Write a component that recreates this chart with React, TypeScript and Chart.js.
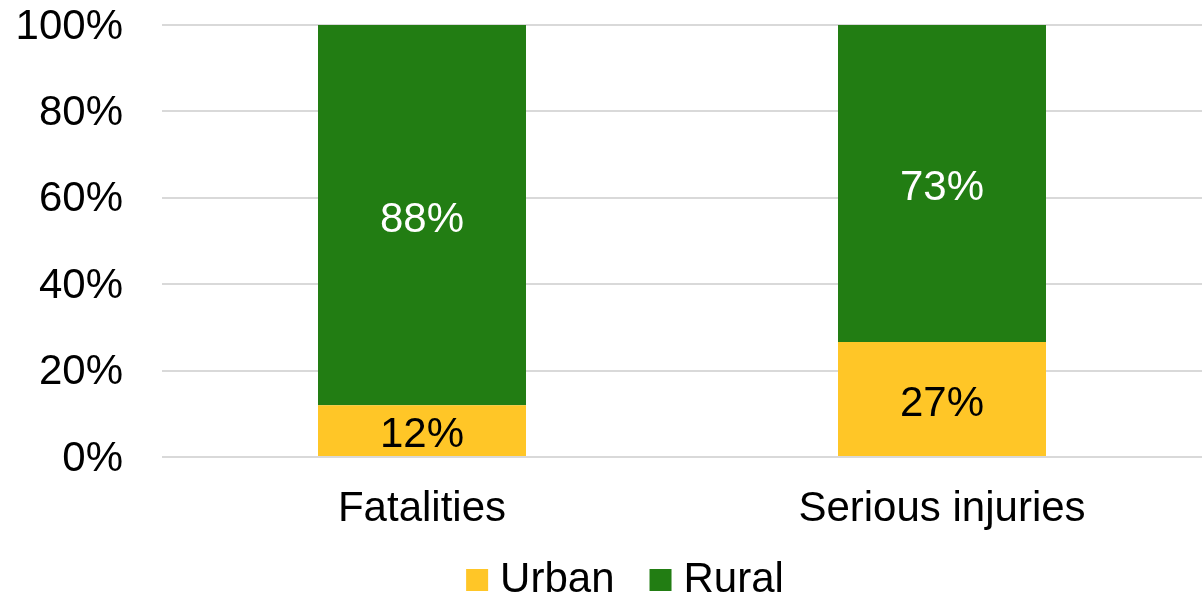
import React, { useEffect, useRef } from "react";
import { Chart, registerables } from "chart.js";

Chart.register(...registerables);

const categories = ["Fatalities", "Serious injuries"];
const seriesNames = ["Urban", "Rural"];
const urbanValues = [12.0, 26.6];
const ruralValues = [88.0, 73.4];
const yTicks = [0, 20, 40, 60, 80, 100];

const URBAN_COLOR = "#FFC627";
const RURAL_COLOR = "#227D13";
const FONT = "'Liberation Sans', Arial, sans-serif";
const FS = 42;

const labelPlugin = {
  id: "barLabels",
  afterDatasetsDraw(chart: any) {
    const ctx = chart.ctx;
    ctx.save();
    ctx.font = `${FS}px ${FONT}`;
    ctx.textAlign = "center";
    ctx.textBaseline = "middle";
    chart.data.datasets.forEach((ds: any, di: number) => {
      const meta = chart.getDatasetMeta(di);
      meta.data.forEach((bar: any, i: number) => {
        const v = ds.data[i];
        const yMid = (bar.y + bar.base) / 2;
        ctx.fillStyle = di === 0 ? "#000000" : "#FFFFFF";
        ctx.fillText(`${Math.round(v)}%`, bar.x, yMid + 5);
      });
    });
    ctx.restore();
  },
};

const legendPlugin = {
  id: "customLegend",
  afterDraw(chart: any) {
    const ctx = chart.ctx;
    ctx.save();
    ctx.font = `${FS}px ${FONT}`;
    ctx.textBaseline = "middle";
    ctx.textAlign = "left";
    const box = 22;
    const gap = 12;
    const spacing = 35;
    const widths = chart.data.datasets.map((d: any) => ctx.measureText(d.label).width);
    const total =
      widths.reduce((a: number, w: number) => a + box + gap + w, 0) + spacing * (widths.length - 1);
    let x = 625 - total / 2;
    const yc = 580;
    chart.data.datasets.forEach((d: any, i: number) => {
      ctx.fillStyle = d.backgroundColor;
      ctx.fillRect(x, yc - box / 2, box, box);
      ctx.fillStyle = "#000";
      ctx.fillText(d.label, x + box + gap, yc);
      x += box + gap + widths[i] + spacing;
    });
    ctx.restore();
  },
};

export default function App() {
  const ref = useRef<HTMLCanvasElement>(null);
  useEffect(() => {
    document.body.style.margin = "0";
    const chart = new Chart(ref.current!, {
      type: "bar",
      data: {
        labels: categories,
        datasets: [
          { label: seriesNames[0], data: urbanValues, backgroundColor: URBAN_COLOR },
          { label: seriesNames[1], data: ruralValues, backgroundColor: RURAL_COLOR },
        ],
      },
      options: {
        animation: false,
        responsive: false,
        maintainAspectRatio: false,
        layout: { padding: { top: 25, right: 2, left: 0, bottom: 0 } },
        datasets: { bar: { barPercentage: 0.4, categoryPercentage: 1 } } as any,
        plugins: {
          legend: { display: false },
          tooltip: { enabled: false },
        },
        scales: {
          x: {
            stacked: true,
            grid: { display: false, drawTicks: false },
            border: { display: false },
            ticks: { font: { family: FONT, size: FS }, color: "#000", padding: 27 },
            afterFit(scale: any) {
              scale.height = 142;
              scale.paddingLeft = 0;
              scale.paddingRight = 0;
            },
          },
          y: {
            stacked: true,
            min: 0,
            max: 100,
            afterBuildTicks(scale: any) {
              scale.ticks = yTicks.map((v) => ({ value: v }));
            },
            afterFit(scale: any) {
              scale.width = 162;
              scale.paddingTop = 0;
              scale.paddingBottom = 0;
            },
            grid: { color: "#D9D9D9", lineWidth: 2, drawTicks: false },
            border: { display: false },
            ticks: {
              font: { family: FONT, size: FS },
              color: "#000",
              padding: 39,
              labelOffset: 2,
              callback: (v: any) => `${v}%`,
            },
          },
        },
      },
      plugins: [labelPlugin, legendPlugin],
    });
    return () => chart.destroy();
  }, []);
  return (
    <div style={{ width: 1204, height: 599 }}>
      <canvas ref={ref} width={1204} height={599} style={{ width: 1204, height: 599 }} />
    </div>
  );
}
